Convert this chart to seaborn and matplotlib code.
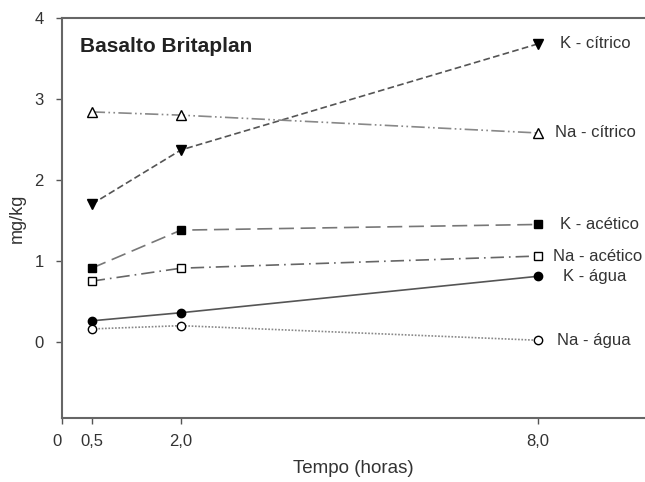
import matplotlib
matplotlib.use("Agg")
import matplotlib.pyplot as plt
import seaborn as sns
import pandas as pd

sns.set_style("white")
plt.rcParams["font.family"] = ["Liberation Sans", "DejaVu Sans"]

horas = [0.5, 2.0, 8.0]
k_citrico = [1.70, 2.37, 3.68]
na_citrico = [2.84, 2.80, 2.58]
k_acetico = [0.91, 1.38, 1.45]
na_acetico = [0.75, 0.91, 1.06]
k_agua = [0.26, 0.36, 0.81]
na_agua = [0.16, 0.20, 0.02]

series_names = ["K - cítrico", "Na - cítrico", "K - acético",
                "Na - acético", "K - água", "Na - água"]
series_values = [k_citrico, na_citrico, k_acetico, na_acetico, k_agua, na_agua]

x_ticks = [0, 0.5, 2.0, 8.0]
x_tick_labels = ["0", "0,5", "2,0", "8,0"]
y_ticks = [0, 1, 2, 3, 4]

styles = {
    "K - cítrico": dict(marker="v", mfc="black", ls=(0, (4, 2)), color="#555555", ms=7),
    "Na - cítrico": dict(marker="^", mfc="white", ls=(0, (8, 2, 1, 2, 1, 2)), color="#888888", ms=7),
    "K - acético": dict(marker="s", mfc="black", ls=(0, (9, 4)), color="#777777", ms=6),
    "Na - acético": dict(marker="s", mfc="white", ls=(0, (8, 3, 1, 3)), color="#666666", ms=6),
    "K - água": dict(marker="o", mfc="black", ls="-", color="#555555", ms=6),
    "Na - água": dict(marker="o", mfc="white", ls=(0, (1, 1)), color="#888888", ms=6),
}
label_offsets = {
    "K - cítrico": (0.37, 0.0),
    "Na - cítrico": (0.29, 0.0),
    "K - acético": (0.37, 0.0),
    "Na - acético": (0.25, 0.0),
    "K - água": (0.42, 0.0),
    "Na - água": (0.32, 0.0),
}

fig = plt.figure(figsize=(6.45, 4.82), dpi=100)
ax = fig.add_axes([0.0961, 0.1328, 0.9039, 0.8299])

for name, vals in zip(series_names, series_values):
    df = pd.DataFrame({"horas": horas, "mg": vals})
    st = styles[name]
    sns.lineplot(data=df, x="horas", y="mg", ax=ax, color=st["color"],
                 linestyle=st["ls"], linewidth=1.2, marker=st["marker"],
                 markersize=st["ms"], markerfacecolor=st["mfc"],
                 markeredgecolor="black", markeredgewidth=1.0)
    dx, dy = label_offsets[name]
    ax.text(horas[-1] + dx, vals[-1] + dy, name, fontsize=12,
            va="center", ha="left", color="#333333")

ax.set_xlim(0, 9.8)
ax.set_ylim(-0.94, 4)
ax.set_xticks(x_ticks)
ax.set_xticklabels(x_tick_labels)
ax.set_yticks(y_ticks)
ax.tick_params(axis="both", direction="out", length=4.3, width=1, color="#555555",
               labelsize=12, labelcolor="#333333", bottom=True, left=True)
ax.tick_params(axis="y", pad=9)
ax.tick_params(axis="x", pad=7.5)
ax.get_xticklabels()[0].set_horizontalalignment("right")

for side in ["left", "bottom", "top"]:
    ax.spines[side].set_color("#666666")
    ax.spines[side].set_linewidth(1.5)
ax.spines["right"].set_visible(False)

ax.set_xlabel("Tempo (horas)", fontsize=13.5, color="#333333", labelpad=8)
ax.set_ylabel("mg/kg", fontsize=13, color="#333333", labelpad=6)
ax.text(0.3, 3.65, "Basalto Britaplan", fontsize=15, fontweight="bold",
        color="#222222", va="center", ha="left")

fig.savefig("out.png", dpi=100)
